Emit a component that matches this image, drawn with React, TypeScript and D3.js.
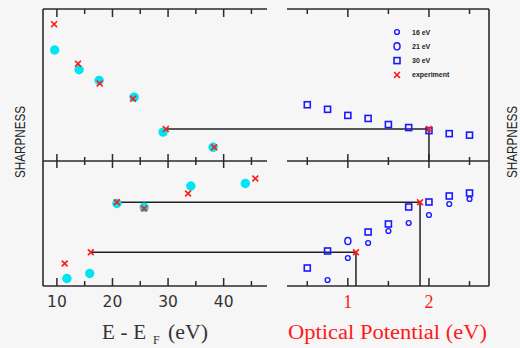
import * as d3 from "d3"
import React from 'react';

// energies (eV) and sharpness, arbitrary units
const topCalcE = [9.6, 14.0, 17.6, 23.9, 29.1, 38.1];
const topCalcS = [0.73, 0.60, 0.53, 0.42, 0.19, 0.09];
const topExpE = [9.5, 13.8, 17.7, 23.7, 29.6, 38.3];
const topExpS = [0.90, 0.64, 0.51, 0.41, 0.21, 0.09];

const botCalcE = [11.8, 15.9, 20.8, 25.7, 34.1, 43.9];
const botCalcS = [0.06, 0.10, 0.66, 0.63, 0.80, 0.82];
const botExpE = [11.4, 16.1, 20.8, 25.7, 33.6, 45.7];
const botExpS = [0.18, 0.27, 0.67, 0.62, 0.74, 0.86];

// optical potential curves
const potTop30 = [0.5, 0.75, 1.0, 1.25, 1.5, 1.75, 2.0, 2.25, 2.5];
const sTop30 = [0.37, 0.34, 0.30, 0.28, 0.24, 0.22, 0.20, 0.18, 0.17];

const potBot30 = [0.5, 0.75, 1.25, 1.5, 1.75, 2.0, 2.25, 2.5];
const sBot30 = [0.144, 0.28, 0.432, 0.496, 0.632, 0.672, 0.72, 0.744];
const potBot21 = [1.0];
const sBot21 = [0.36];
const potBot16 = [0.75, 1.0, 1.25, 1.5, 1.75, 2.0, 2.25, 2.5];
const sBot16 = [0.048, 0.224, 0.344, 0.44, 0.504, 0.568, 0.656, 0.696];

// experiment matched to optical potential
const matchTop = [{ e: 29.6, v: 2.0, s: 0.21 }];
const matchBot = [{ e: 20.8, v: 1.89, s: 0.67 }, { e: 16.1, v: 1.10, s: 0.27 }];

const eMajor = [10, 20, 30, 40];
const eMinor = [15, 25, 35, 45];
const vMajor = [1, 2];
const vMinor = [0.5, 1.5, 2.5];

const legendItems = ["16 eV", "21 eV", "30 eV", "experiment"];

const W = 520, H = 348;
const top = 9, mid = 161, bottom = 286;
const lx0 = 43, lx1 = 267, rx0 = 287, rx1 = 489;

const ink = "#2b2b2b";
const cyan = "#00e6f0";
const red = "#ff1a1a";
const blue = "#1a1aff";

const xE = d3.scaleLinear().domain([7.5, 47.8]).range([lx0, lx1]);
const xV = d3.scaleLinear().domain([0.25, 2.74]).range([rx0, rx1]);
const yTop = d3.scaleLinear().domain([0, 1]).range([mid, top]);
const yBot = d3.scaleLinear().domain([0, 1]).range([bottom, mid]);

const cross = d3.symbol().type(d3.symbolX).size(24)();

const Cross = ({ x, y }: { x: number; y: number }) => (
  <path d={cross!} transform={`translate(${x},${y})`} fill="none" stroke={red} strokeWidth={1.6} />
);
const Square = ({ x, y }: { x: number; y: number }) => (
  <rect x={x - 3} y={y - 3} width={6} height={6} fill="none" stroke={blue} strokeWidth={1.6} />
);

const ticks = (scale: d3.ScaleLinear<number, number>, vals: number[], y: number, up: number, down: number, k: string) =>
  vals.map((v, i) => (
    <line key={k + i} x1={scale(v)} x2={scale(v)} y1={y - up} y2={y + down} stroke={ink} strokeWidth={1.5} />
  ));

const App = () => {
  return (
    <svg width={W} height={H} style={{ position: 'absolute', left: 0, top: 0 }}>
      <rect width={W} height={H} fill="#f6f6f6" />

      {/* frame */}
      <g stroke={ink} strokeWidth={1.6}>
        <line x1={lx0} x2={lx0} y1={top} y2={bottom} />
        <line x1={rx1} x2={rx1} y1={top} y2={bottom} />
        {[top, mid, bottom].map((y) => (
          <g key={y}>
            <line x1={lx0} x2={lx1} y1={y} y2={y} />
            <line x1={rx0} x2={rx1} y1={y} y2={y} />
          </g>
        ))}
      </g>

      {/* ticks */}
      {ticks(xE, eMajor, top, 0, 8, "etM")}
      {ticks(xE, eMinor, top, 0, 5, "etm")}
      {ticks(xE, eMajor, mid, 7, 7, "emM")}
      {ticks(xE, eMinor, mid, 4, 4, "emm")}
      {ticks(xE, eMajor, bottom, 8, 0, "ebM")}
      {ticks(xE, eMinor, bottom, 5, 0, "ebm")}
      {ticks(xV, vMajor, top, 0, 8, "vtM")}
      {ticks(xV, vMinor, top, 0, 5, "vtm")}
      {ticks(xV, vMajor, mid, 7, 7, "vmM")}
      {ticks(xV, vMinor, mid, 4, 4, "vmm")}
      {ticks(xV, vMajor, bottom, 8, 0, "vbM")}
      {ticks(xV, vMinor, bottom, 5, 0, "vbm")}

      {/* connecting lines */}
      <g stroke="#222" strokeWidth={1.5}>
        {matchTop.map((m, i) => (
          <g key={"mt" + i}>
            <line x1={xE(m.e)} x2={xV(m.v)} y1={yTop(m.s)} y2={yTop(m.s)} />
            <line x1={xV(m.v)} x2={xV(m.v)} y1={yTop(m.s)} y2={mid} />
          </g>
        ))}
        {matchBot.map((m, i) => (
          <g key={"mb" + i}>
            <line x1={xE(m.e)} x2={xV(m.v)} y1={yBot(m.s)} y2={yBot(m.s)} />
            <line x1={xV(m.v)} x2={xV(m.v)} y1={yBot(m.s)} y2={bottom} />
          </g>
        ))}
      </g>

      {/* left panels */}
      {topCalcE.map((e, i) => <circle key={"tc" + i} cx={xE(e)} cy={yTop(topCalcS[i])} r={4.7} fill={cyan} />)}
      {botCalcE.map((e, i) => <circle key={"bc" + i} cx={xE(e)} cy={yBot(botCalcS[i])} r={4.7} fill={cyan} />)}
      {topExpE.map((e, i) => <Cross key={"te" + i} x={xE(e)} y={yTop(topExpS[i])} />)}
      {botExpE.map((e, i) => <Cross key={"be" + i} x={xE(e)} y={yBot(botExpS[i])} />)}

      {/* right panels */}
      {potTop30.map((v, i) => <Square key={"t30" + i} x={xV(v)} y={yTop(sTop30[i])} />)}
      {potBot30.map((v, i) => <Square key={"b30" + i} x={xV(v)} y={yBot(sBot30[i])} />)}
      {potBot21.map((v, i) => (
        <ellipse key={"b21" + i} cx={xV(v)} cy={yBot(sBot21[i])} rx={3} ry={3.6} fill="none" stroke={blue} strokeWidth={1.5} />
      ))}
      {potBot16.map((v, i) => (
        <circle key={"b16" + i} cx={xV(v)} cy={yBot(sBot16[i])} r={2.4} fill="none" stroke={blue} strokeWidth={1.4} />
      ))}
      {matchTop.map((m, i) => <Cross key={"mtx" + i} x={xV(m.v)} y={yTop(m.s)} />)}
      {matchBot.map((m, i) => <Cross key={"mbx" + i} x={xV(m.v)} y={yBot(m.s)} />)}

      {/* legend */}
      {legendItems.map((t, i) => {
        const y = 32 + i * 14.3;
        const x = 397;
        return (
          <g key={"lg" + i}>
            {i === 0 && <circle cx={x} cy={y} r={2.4} fill="none" stroke={blue} strokeWidth={1.4} />}
            {i === 1 && <ellipse cx={x} cy={y} rx={3} ry={3.6} fill="none" stroke={blue} strokeWidth={1.5} />}
            {i === 2 && <Square x={x} y={y} />}
            {i === 3 && <Cross x={x} y={y} />}
            <text x={412} y={y + 2.5} fontSize={7} fontWeight="bold" fontFamily="Liberation Sans, Arial, sans-serif" fill="#222">{t}</text>
          </g>
        );
      })}

      {/* tick labels */}
      {eMajor.map((v) => (
        <text key={"el" + v} x={xE(v)} y={307} textAnchor="middle" fontSize={15.5} fontFamily="DejaVu Sans, sans-serif" fill="#333">{v}</text>
      ))}
      {vMajor.map((v) => (
        <text key={"vl" + v} x={xV(v)} y={308} textAnchor="middle" fontSize={18} fontFamily="Liberation Serif, serif" fill={red}>{v}</text>
      ))}

      {/* axis titles */}
      <text x={102} y={339} fontSize={21} fontFamily="Liberation Serif, serif" fill="#333" textLength={44} lengthAdjust="spacing">E - E</text>
      <text x={153} y={344} fontSize={12} fontFamily="Liberation Serif, serif" fill="#333">F</text>
      <text x={168} y={339} fontSize={21} fontFamily="Liberation Serif, serif" fill="#333" textLength={40} lengthAdjust="spacingAndGlyphs">(eV)</text>
      <text x={288} y={339} fontSize={20} fontFamily="Liberation Serif, serif" fill={red} textLength={199} lengthAdjust="spacingAndGlyphs">Optical Potential (eV)</text>

      <text transform="translate(25,142) rotate(-90)" textAnchor="middle" fontSize={14} fontFamily="Liberation Sans, Arial, sans-serif" fill="#222" textLength={72} lengthAdjust="spacingAndGlyphs">SHARPNESS</text>
      <text transform="translate(517,142) rotate(-90)" textAnchor="middle" fontSize={14} fontFamily="Liberation Sans, Arial, sans-serif" fill="#222" textLength={72} lengthAdjust="spacingAndGlyphs">SHARPNESS</text>
    </svg>
  );
};

export default App;
